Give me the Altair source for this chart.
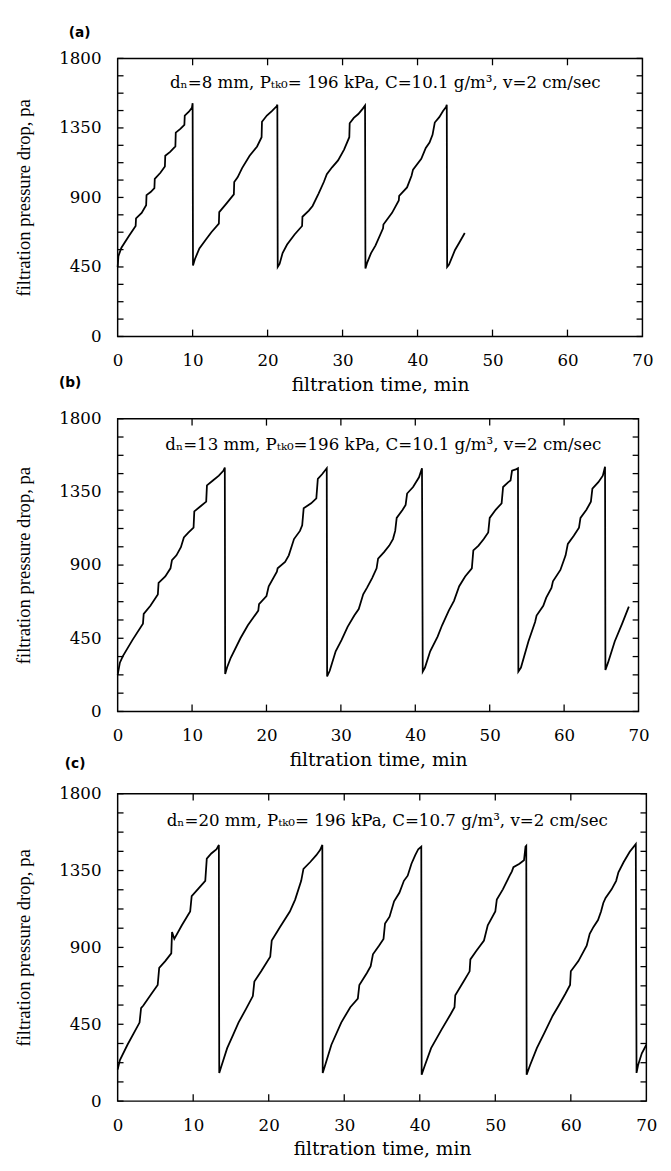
import altair as alt
import pandas as pd

# ---------------- data ----------------
t_a = [0.0, 0.1, 0.5, 1.5, 2.4, 2.45, 3.2, 3.8, 3.85, 4.4, 4.9, 4.95, 5.7, 6.3, 6.35, 7.0, 7.7, 7.75, 8.4, 8.9, 8.95, 9.5, 9.9, 10.0, 10.05,
       10.3, 10.9, 11.8, 12.5, 13.5, 13.55, 14.5, 15.5, 15.55, 16.0, 16.6, 17.6, 18.6, 19.2, 19.25, 19.9, 20.6, 21.2, 21.3, 21.35,
       21.6, 22.0, 22.6, 23.6, 24.6, 24.65, 25.5, 26.0, 26.8, 27.5, 27.9, 28.6, 29.4, 30.2, 30.9, 30.95, 31.5, 32.1, 32.7, 33.0, 33.05,
       33.3, 33.8, 34.4, 35.4, 35.45, 36.6, 37.5, 37.55, 38.6, 39.2, 39.4, 40.5, 41.1, 41.6, 42.0, 42.3, 42.9, 43.4, 43.8, 43.9, 43.95,
       44.2, 45.0, 45.6, 46.3]
p_a = [450, 520, 575, 650, 715, 765, 800, 850, 915, 935, 960, 1020, 1060, 1100, 1170, 1195, 1230, 1320, 1345, 1370, 1430, 1455, 1480, 1510, 460,
       500, 570, 630, 675, 730, 805, 860, 920, 1000, 1030, 1090, 1170, 1230, 1290, 1390, 1430, 1460, 1490, 1500, 450,
       470, 540, 595, 660, 715, 775, 815, 845, 925, 1000, 1050, 1095, 1140, 1210, 1290, 1380, 1415, 1440, 1475, 1495, 440,
       480, 540, 590, 700, 725, 800, 880, 910, 965, 1040, 1080, 1150, 1220, 1255, 1305, 1385, 1420, 1460, 1485, 1500, 450,
       465, 560, 610, 670]

t_b = [0.0, 0.3, 0.7, 2.0, 3.4, 3.5, 4.4, 5.4, 5.5, 6.4, 7.1, 7.3, 7.9, 8.5, 8.9, 9.5, 10.2, 10.3, 11.1, 11.9, 12.0, 12.8, 13.6, 14.2, 14.4, 14.45,
       14.7, 15.2, 16.5, 17.5, 18.9, 19.0, 20.0, 20.3, 21.4, 21.5, 22.5, 23.0, 23.7, 24.5, 24.8, 25.0, 26.0, 26.7, 26.9, 27.5, 28.1, 28.15,
       28.5, 29.3, 30.1, 30.9, 31.8, 32.4, 33.0, 33.5, 34.2, 34.8, 35.0, 35.8, 36.5, 37.0, 37.3, 37.5, 38.3, 38.7, 38.9, 39.7, 40.5, 40.9, 41.0,
       41.3, 42.0, 43.0, 43.6, 44.5, 45.2, 45.9, 46.7, 47.6, 47.8, 48.5, 49.2, 49.8, 50.0, 50.8, 51.6, 51.8, 52.5, 52.8, 53.0, 53.6, 53.8, 53.85,
       54.2, 55.2, 56.1, 56.3, 57.2, 57.6, 58.3, 58.5, 59.5, 60.2, 60.5, 61.3, 62.0, 62.2, 63.0, 63.6, 63.8, 64.6, 65.2, 65.5, 65.55,
       65.9, 66.8, 67.8, 68.7]
p_b = [225, 300, 340, 440, 540, 600, 650, 720, 790, 830, 880, 930, 960, 1010, 1070, 1100, 1130, 1230, 1260, 1290, 1390, 1420, 1450, 1480, 1500, 230,
       270, 330, 450, 530, 620, 660, 710, 770, 860, 880, 920, 960, 1060, 1110, 1145, 1250, 1280, 1310, 1430, 1460, 1495, 215,
       250, 370, 440, 520, 590, 630, 720, 760, 820, 880, 940, 980, 1020, 1060, 1110, 1190, 1240, 1270, 1340, 1380, 1440, 1495, 245,
       270, 370, 460, 530, 620, 680, 770, 830, 880, 990, 1020, 1060, 1100, 1190, 1240, 1280, 1380, 1410, 1420, 1480, 1490, 1495, 245,
       270, 430, 550, 590, 650, 700, 760, 800, 870, 960, 1030, 1080, 1130, 1190, 1240, 1290, 1370, 1410, 1450, 1505, 255,
       300, 430, 540, 645]

t_c = [0.0, 0.3, 1.3, 2.9, 3.1, 3.4, 4.5, 5.3, 5.5, 6.3, 7.1, 7.2, 7.5, 8.5, 9.6, 9.8, 10.6, 11.6, 11.8, 12.4, 13.1, 13.4, 13.45,
       13.7, 14.5, 15.3, 16.0, 17.0, 17.9, 18.1, 19.0, 20.2, 20.4, 21.5, 22.8, 23.5, 24.3, 24.6, 25.5, 26.3, 26.8, 27.1, 27.15,
       27.4, 28.3, 29.6, 30.8, 31.8, 32.0, 33.0, 33.5, 33.8, 34.6, 35.2, 35.4, 36.0, 36.6, 37.3, 37.9, 38.4, 38.9, 39.4, 39.8, 40.2, 40.25,
       40.6, 41.5, 42.9, 44.1, 44.6, 44.7, 45.8, 46.6, 46.7, 47.5, 48.5, 49.0, 50.0, 50.2, 51.0, 51.9, 52.2, 52.4, 53.2, 53.8, 54.0, 54.1, 54.15,
       54.6, 55.5, 56.5, 57.6, 58.4, 59.3, 59.9, 60.0, 61.0, 62.1, 62.5, 63.0, 63.6, 64.0, 64.3, 64.6, 65.4, 66.0, 66.3, 67.0, 67.8, 68.6, 68.7,
       68.9, 69.4, 70.0]
p_c = [185, 240, 330, 460, 545, 560, 630, 680, 780, 820, 865, 990, 950, 1030, 1110, 1200, 1240, 1290, 1420, 1450, 1475, 1500, 165,
       200, 310, 390, 460, 540, 615, 700, 760, 845, 940, 1020, 1110, 1180, 1290, 1360, 1400, 1440, 1470, 1500, 165,
       200, 330, 460, 550, 600, 680, 750, 790, 860, 910, 950, 1040, 1080, 1170, 1220, 1290, 1320, 1390, 1440, 1475, 1490, 155,
       200, 310, 420, 510, 550, 620, 700, 760, 830, 880, 940, 1030, 1110, 1180, 1240, 1320, 1345, 1370, 1390, 1410, 1490, 1495, 155,
       210, 310, 400, 500, 560, 630, 680, 760, 820, 910, 980, 1020, 1060, 1110, 1160, 1190, 1240, 1290, 1340, 1400, 1460, 1505, 165,
       210, 280, 330]

x_tick_values = [0, 10, 20, 30, 40, 50, 60, 70]
y_label_values = [0, 450, 900, 1350, 1800]
y_minor_values = [112.5 * k for k in range(17)]

panel_labels = ["(a)", "(b)", "(c)"]
notes = [
    "dₙ=8 mm, Pₜₖ₀= 196 kPa, C=10.1 g/m³, v=2 cm/sec",
    "dₙ=13 mm, Pₜₖ₀=196 kPa, C=10.1 g/m³, v=2 cm/sec",
    "dₙ=20 mm, Pₜₖ₀= 196 kPa, C=10.7 g/m³, v=2 cm/sec",
]
x_title = "filtration time, min"
y_title = "filtration pressure drop, pa"

LABEL_FONT = "DejaVu Serif"


def panel(t, p, label, note, w, h, title_offset, title_dx):
    df = pd.DataFrame({"t": t, "p": p, "i": list(range(len(t)))})
    xs = alt.Scale(domain=[0, 70], nice=False, zero=False)
    ys = alt.Scale(domain=[0, 1800], nice=False)
    xaxis = alt.Axis(
        values=x_tick_values, format="d", ticks=False, domain=False, grid=False,
        labelFlush=False, labelPadding=17, labelFont=LABEL_FONT, labelFontSize=17,
        labelColor="black", title=x_title, titleFont=LABEL_FONT, titleFontSize=19,
        titleFontWeight="normal", titleColor="black", titlePadding=7)
    yaxis = alt.Axis(
        values=y_label_values, format="d", ticks=False, domain=False, grid=False,
        labelPadding=17, labelFont=LABEL_FONT, labelFontSize=17, labelColor="black",
        title=y_title, titleFont="Liberation Serif", titleFontSize=19,
        titleFontWeight="normal", titleColor="black", titlePadding=26)

    line = alt.Chart(df).mark_line(color="black", strokeWidth=1.8).encode(
        x=alt.X("t:Q", scale=xs, axis=xaxis),
        y=alt.Y("p:Q", scale=ys, axis=yaxis),
        order="i:Q",
    )
    ydf = pd.DataFrame({"p": y_minor_values})
    xdf = pd.DataFrame({"t": x_tick_values[1:-1]})
    left = alt.Chart(ydf).mark_rule(color="black", strokeWidth=1.3).encode(
        y=alt.Y("p:Q", scale=ys, axis=yaxis), x=alt.value(0), x2=alt.value(6))
    right = alt.Chart(ydf).mark_rule(color="black", strokeWidth=1.3).encode(
        y=alt.Y("p:Q", scale=ys, axis=yaxis), x=alt.value(w - 6), x2=alt.value(w))
    bottom = alt.Chart(xdf).mark_rule(color="black", strokeWidth=1.3).encode(
        x=alt.X("t:Q", scale=xs, axis=xaxis), y=alt.value(h - 7), y2=alt.value(h))
    top = alt.Chart(xdf).mark_rule(color="black", strokeWidth=1.3).encode(
        x=alt.X("t:Q", scale=xs, axis=xaxis), y=alt.value(0), y2=alt.value(7))
    text = alt.Chart(pd.DataFrame({"s": [note]})).mark_text(
        font=LABEL_FONT, fontSize=17, color="black", align="center", baseline="middle"
    ).encode(text="s:N", x=alt.value(w * 0.51), y=alt.value(h * 0.089))
    return alt.layer(line, left, right, bottom, top, text).properties(
        width=w, height=h,
        title=alt.TitleParams(label, anchor="start", frame="group", dx=title_dx,
                              offset=title_offset, font="DejaVu Sans", fontSize=14,
                              fontWeight="bold", color="black"),
    )


pa = panel(t_a, p_a, panel_labels[0], notes[0], 536, 284, 10, -50)
pb = panel(t_b, p_b, panel_labels[1], notes[1], 532, 299, 20, -60)
pc = panel(t_c, p_c, panel_labels[2], notes[2], 540, 314, 14, -54)

chart = alt.vconcat(pa, pb, pc, spacing=84, bounds="flush").properties(
    background="white"
).configure_view(stroke="black", strokeWidth=1.5)

chart.save("out.html", embed_options={"renderer": "svg", "actions": False})
